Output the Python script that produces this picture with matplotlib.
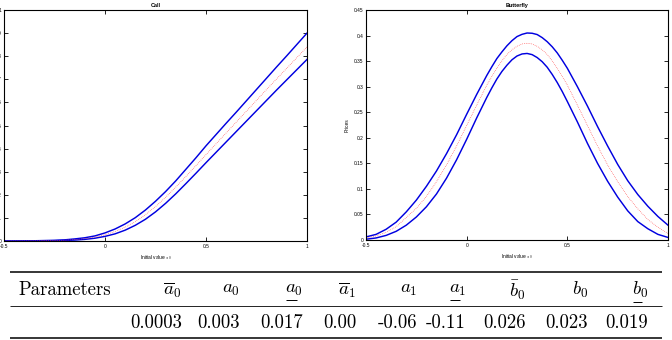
import matplotlib
matplotlib.use("Agg")
import matplotlib.pyplot as plt
import numpy as np

plt.rcParams['mathtext.fontset'] = 'cm'
plt.rcParams['font.family'] = ['Liberation Sans', 'DejaVu Sans']

# ---------------- data ----------------
s_grid = [-0.5, -0.45, -0.4, -0.35, -0.3, -0.25, -0.2, -0.15, -0.1, -0.05,
          0.0, 0.05, 0.1, 0.15, 0.2, 0.25, 0.3, 0.35, 0.4, 0.45,
          0.5, 0.55, 0.6, 0.65, 0.7, 0.75, 0.8, 0.85, 0.9, 0.95, 1.0]

call_upper = [0.0, 0.0, 0.0005, 0.001, 0.002, 0.003, 0.005, 0.009, 0.014, 0.022,
              0.035, 0.052, 0.074, 0.101, 0.134, 0.172, 0.214, 0.260, 0.310, 0.360,
              0.412, 0.461, 0.510, 0.558, 0.607, 0.656, 0.705, 0.754, 0.802, 0.851, 0.900]
call_mid = [0.0, 0.0, 0.0003, 0.0007, 0.0013, 0.002, 0.0035, 0.006, 0.010, 0.017,
            0.027, 0.041, 0.060, 0.084, 0.114, 0.149, 0.189, 0.233, 0.279, 0.326,
            0.374, 0.421, 0.468, 0.515, 0.562, 0.609, 0.656, 0.702, 0.748, 0.794, 0.840]
call_lower = [0.0, 0.0, 0.0002, 0.0004, 0.0008, 0.0013, 0.0024, 0.004, 0.007, 0.012,
              0.020, 0.031, 0.047, 0.068, 0.094, 0.126, 0.163, 0.204, 0.248, 0.293,
              0.339, 0.384, 0.429, 0.474, 0.519, 0.564, 0.609, 0.654, 0.698, 0.742, 0.786]

fly_grid = [-0.5, -0.45, -0.4, -0.35, -0.3, -0.25, -0.2, -0.15, -0.1, -0.05,
            0.0, 0.05, 0.1, 0.125, 0.15, 0.175, 0.2, 0.225, 0.25, 0.275,
            0.3, 0.325, 0.35, 0.375, 0.4, 0.425, 0.45, 0.475,
            0.5, 0.55, 0.6, 0.65, 0.7, 0.75, 0.8, 0.85, 0.9, 0.95, 1.0]
fly_upper = [0.006, 0.011, 0.021, 0.035, 0.055, 0.078, 0.105, 0.135, 0.169, 0.206,
             0.246, 0.285, 0.322, 0.339, 0.355, 0.368, 0.380, 0.390, 0.398, 0.4024,
             0.405, 0.4045, 0.402, 0.396, 0.388, 0.378, 0.366, 0.3515,
             0.336, 0.300, 0.262, 0.222, 0.184, 0.148, 0.116, 0.089, 0.066, 0.046, 0.029]
fly_mid = [0.004, 0.008, 0.015, 0.026, 0.044, 0.062, 0.085, 0.114, 0.147, 0.184,
           0.224, 0.264, 0.303, 0.320, 0.336, 0.3504, 0.363, 0.3722, 0.379, 0.3836,
           0.385, 0.3836, 0.379, 0.3722, 0.363, 0.3504, 0.336, 0.320,
           0.303, 0.264, 0.224, 0.184, 0.147, 0.114, 0.085, 0.061, 0.040, 0.025, 0.013]
fly_lower = [0.0015, 0.004, 0.009, 0.017, 0.029, 0.045, 0.065, 0.090, 0.121, 0.157,
             0.197, 0.239, 0.279, 0.2976, 0.315, 0.3297, 0.342, 0.3526, 0.360, 0.364,
             0.365, 0.3627, 0.357, 0.3489, 0.338, 0.3239, 0.308, 0.2903,
             0.271, 0.231, 0.189, 0.150, 0.115, 0.084, 0.057, 0.036, 0.022, 0.011, 0.005]

x_ticks = [-0.5, 0, 0.5, 1]
x_tick_labels = ['-0.5', '0', '0.5', '1']
call_yticks = [0, 0.1, 0.2, 0.3, 0.4, 0.5, 0.6, 0.7, 0.8, 0.9, 1.0]
call_ytick_labels = ['0', '0.1', '0.2', '0.3', '0.4', '0.5', '0.6', '0.7', '0.8', '0.9', '1']
fly_yticks = [0, 0.05, 0.1, 0.15, 0.2, 0.25, 0.3, 0.35, 0.4, 0.45]
fly_ytick_labels = ['0', '0.05', '0.1', '0.15', '0.2', '0.25', '0.3', '0.35', '0.4', '0.45']

param_headers = [r'$\overline{a}_0$', r'$a_0$', r'$a_0$', r'$\overline{a}_1$', r'$a_1$',
                 r'$a_1$', r'$\bar{b}_0$', r'$b_0$', r'$b_0$']
param_underlined = [False, False, True, False, False, True, False, False, True]
param_values = ['0.0003', '0.003', '0.017', '0.00', '-0.06', '-0.11', '0.026', '0.023', '0.019']

# ---------------- figure ----------------
W, H = 672, 340
fig = plt.figure(figsize=(W / 100, H / 100), dpi=100)

def px_axes(x0, y0, x1, y1):
    return fig.add_axes([x0 / W, 1 - y1 / H, (x1 - x0) / W, (y1 - y0) / H])

blue = '#0000e0'
red = '#ff4040'

def style(ax, yticks, ylabels, title, ylim):
    ax.set_xlim(-0.5, 1)
    ax.set_ylim(*ylim)
    ax.set_xticks(x_ticks)
    ax.set_xticklabels(x_tick_labels)
    ax.set_yticks(yticks)
    ax.set_yticklabels(ylabels)
    ax.tick_params(direction='in', length=3, width=0.6, labelsize=3.5,
                   top=True, right=True, pad=2)
    for sp in ax.spines.values():
        sp.set_linewidth(0.8)
    ax.set_title(title, fontsize=4, fontweight='bold', pad=2)
    ax.set_xlabel('Initial value $s_0$', fontsize=3.5, labelpad=3)

ax1 = px_axes(4, 10, 307, 241)
ax1.plot(s_grid, call_upper, color=blue, lw=1.05)
ax1.plot(s_grid, call_lower, color=blue, lw=1.05)
ax1.plot(s_grid, call_mid, color=red, lw=0.5, ls=':')
style(ax1, call_yticks, call_ytick_labels, 'Call', (0, 1))

ax2 = px_axes(366, 10, 668, 240)
ax2.plot(fly_grid, fly_upper, color=blue, lw=1.05)
ax2.plot(fly_grid, fly_lower, color=blue, lw=1.05)
ax2.plot(fly_grid, fly_mid, color=red, lw=0.5, ls=':')
style(ax2, fly_yticks, fly_ytick_labels, 'Butterfly', (0, 0.45))
ax2.set_ylabel('Prices', fontsize=3.5, labelpad=3)

# ---------------- table ----------------
tab = fig.add_axes([0, 0, 1, 1])
tab.set_xlim(0, W)
tab.set_ylim(H, 0)
tab.axis('off')
tab.hlines(272, 10, 662, color='black', lw=1.1)
tab.hlines(306, 10, 662, color='black', lw=0.6)
tab.hlines(338, 10, 662, color='black', lw=1.1)

tab.text(18, 290, 'Parameters', fontsize=13.5, family='cmr10', ha='left', va='center')
col_right = [182, 240, 303, 356, 417, 466, 526, 588, 648]
hdr_texts = []
for xr, hdr, val in zip(col_right, param_headers, param_values):
    t = tab.text(xr, 290, hdr, fontsize=13.5, ha='right', va='center')
    hdr_texts.append(t)
    tab.text(xr, 323, val, fontsize=13.5, family='cmr10', ha='right', va='center')

fig.canvas.draw()
inv = tab.transData.inverted()
for t, ul in zip(hdr_texts, param_underlined):
    if ul:
        bb = t.get_window_extent()
        (x0, y0), (x1, y1) = inv.transform([[bb.x0, bb.y0], [bb.x1, bb.y1]])
        tab.hlines(max(y0, y1) + 1.5, x0 + 1, x1 - 6, color='black', lw=0.7)

fig.savefig('out.png', dpi=100)
